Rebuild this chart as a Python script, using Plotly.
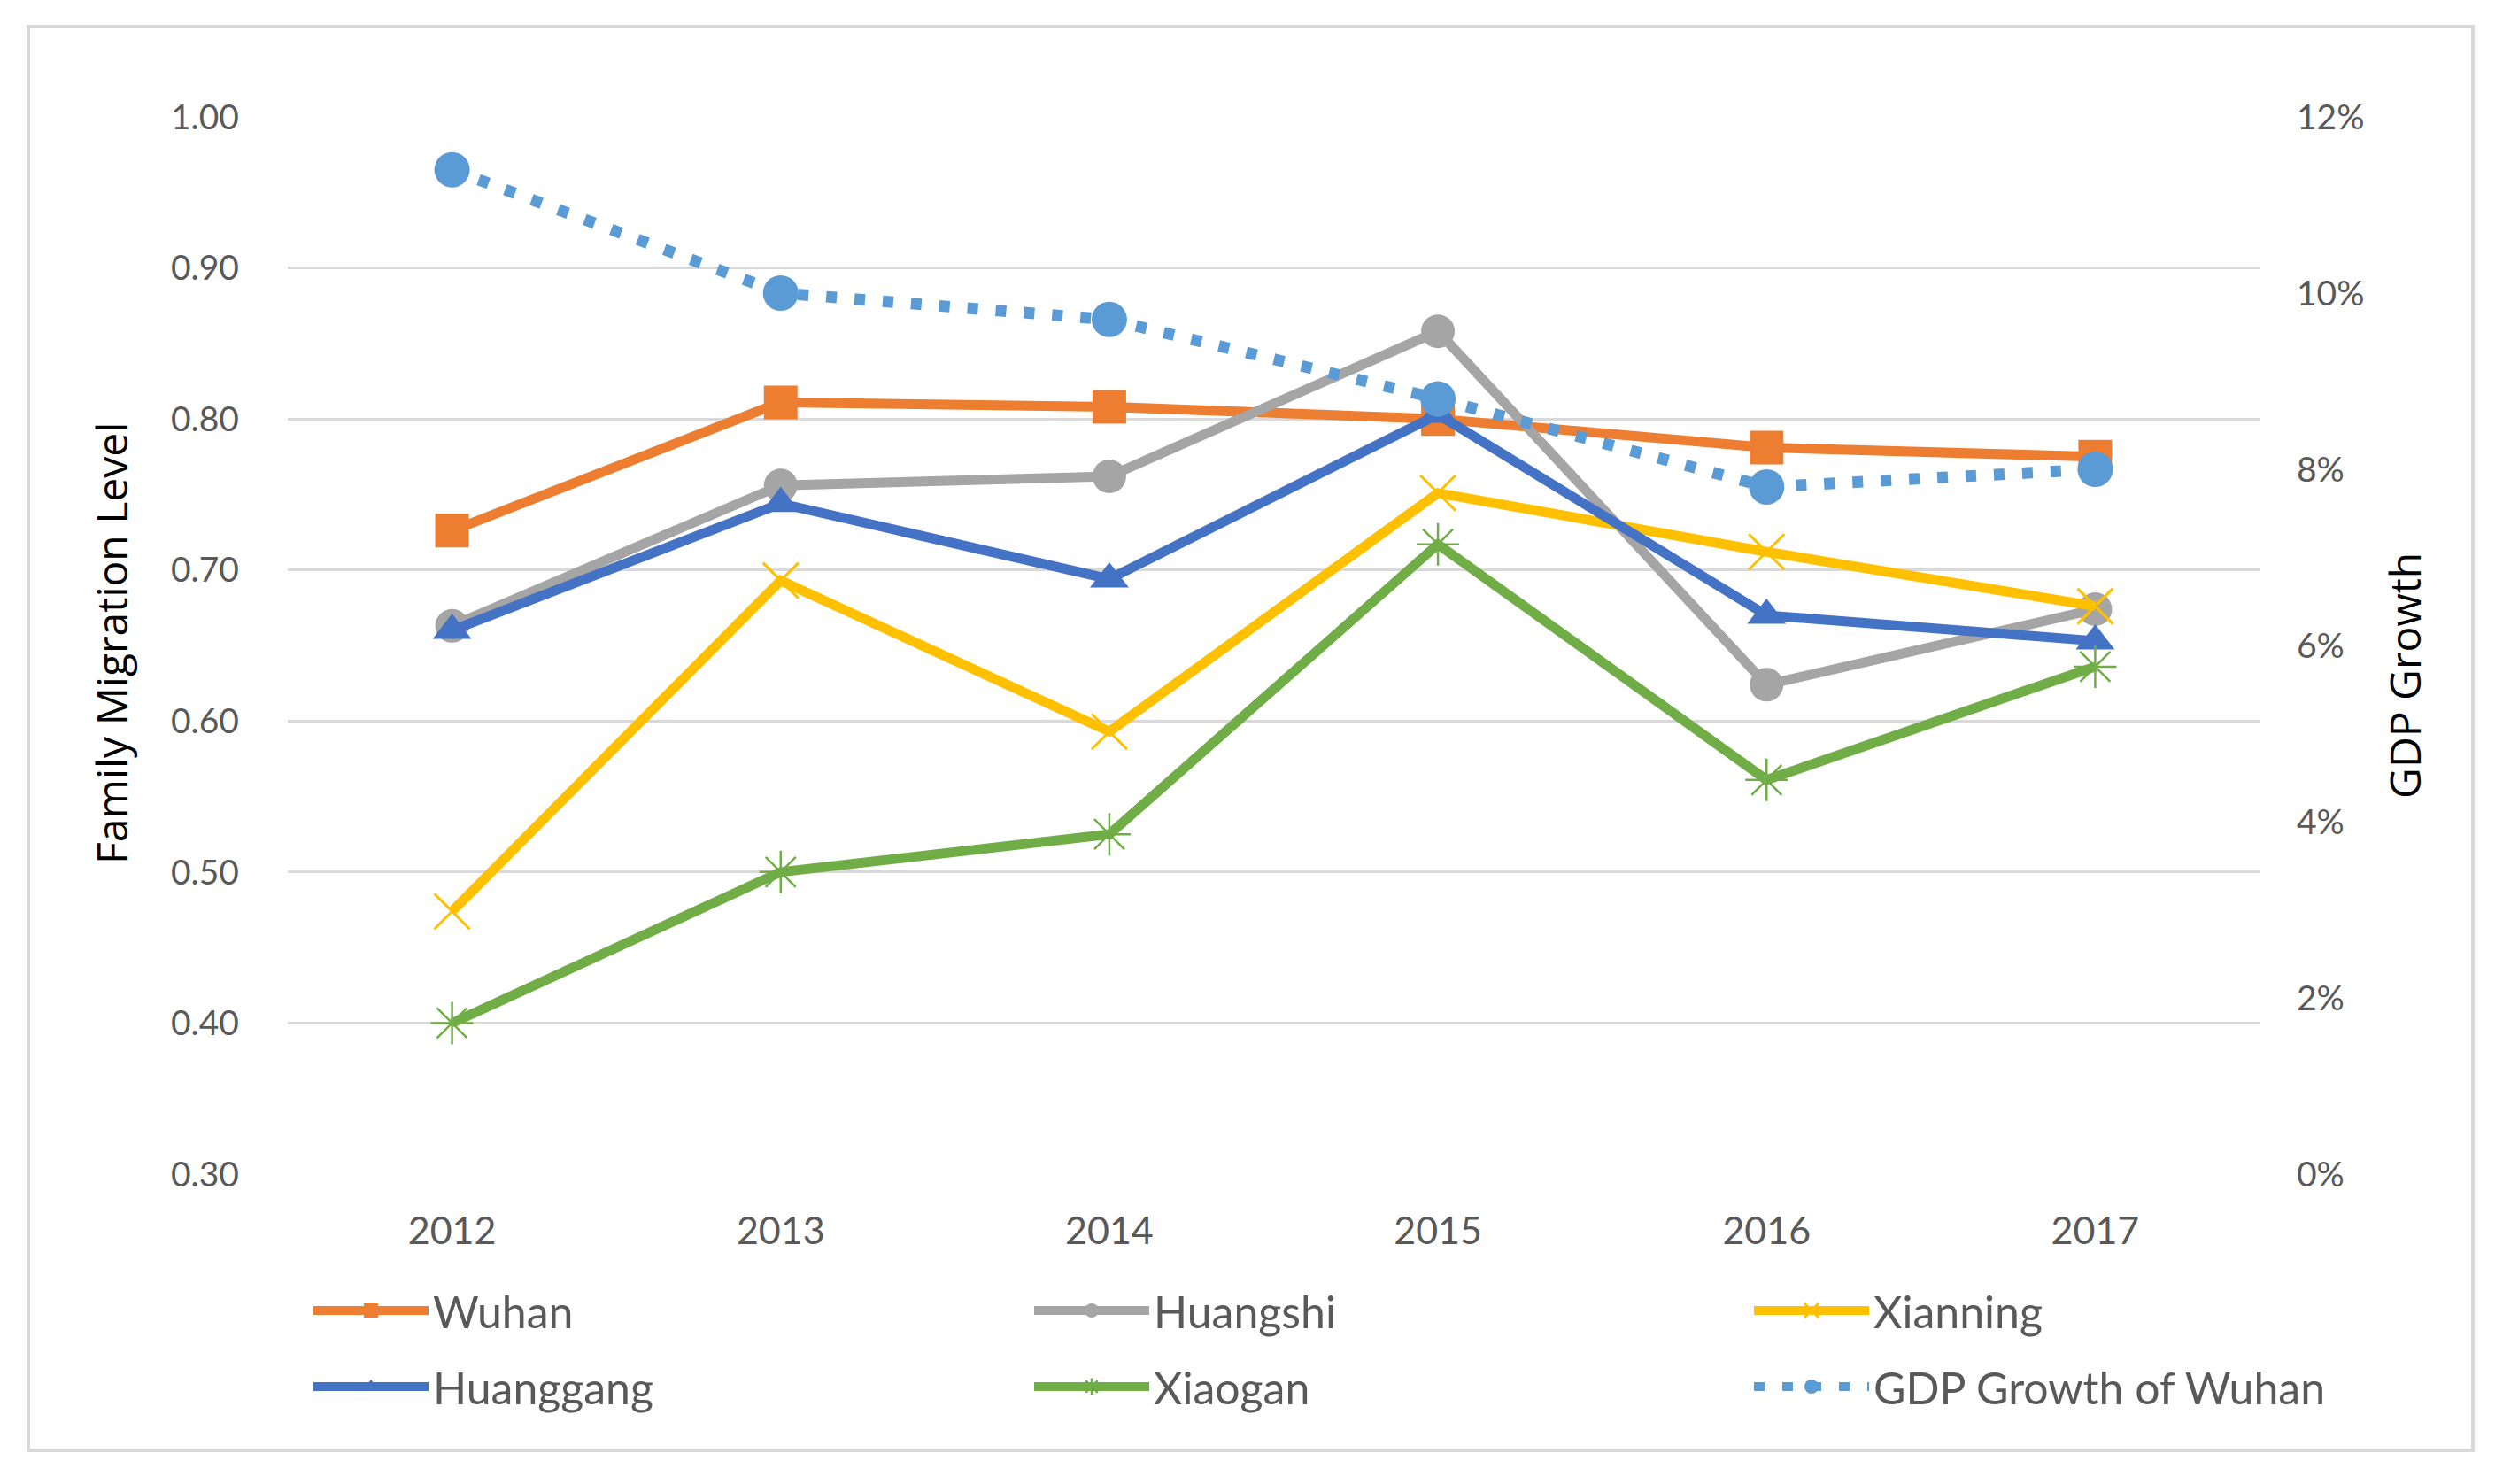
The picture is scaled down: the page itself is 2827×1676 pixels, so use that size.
import plotly.graph_objects as go

years = ["2012", "2013", "2014", "2015", "2016", "2017"]
wuhan = [0.726, 0.811, 0.808, 0.800, 0.781, 0.775]
huangshi = [0.663, 0.756, 0.762, 0.858, 0.624, 0.674]
xianning = [0.474, 0.693, 0.593, 0.751, 0.712, 0.676]
huanggang = [0.660, 0.744, 0.694, 0.803, 0.670, 0.653]
xiaogan = [0.400, 0.500, 0.525, 0.717, 0.561, 0.636]
gdp_growth = [0.114, 0.100, 0.097, 0.088, 0.078, 0.080]

left_ticks = [0.30, 0.40, 0.50, 0.60, 0.70, 0.80, 0.90, 1.00]
right_ticks = [0.00, 0.02, 0.04, 0.06, 0.08, 0.10, 0.12]

W, H = 2827, 1676
ML, MR, MT, MB = 325, 275, 132, 350
PW = W - ML - MR
PH = H - MT - MB

FONT = "Lato"
TXT = "#595959"


def px_x(p):
    return (p - ML) / PW


def px_y(p):
    return (MT + PH - p) / PH


fig = go.Figure()


def add_line(name, y, color, symbol, size, legend, mline=None):
    marker = dict(symbol=symbol, size=size, color=color)
    if mline:
        marker["line"] = dict(color=color, width=mline)
    fig.add_trace(go.Scatter(
        x=years, y=y, name=name, mode="lines+markers",
        line=dict(color=color, width=11),
        marker=marker, legend=legend, yaxis="y"))


add_line("Wuhan", wuhan, "#ED7D31", "square", 38, "legend")
add_line("Huangshi", huangshi, "#A5A5A5", "circle", 38, "legend2")
add_line("Xianning", xianning, "#FFC000", "x-thin", 40, "legend3", 3)
add_line("Huanggang", huanggang, "#4472C4", "triangle-up", 38, "legend4")
add_line("Xiaogan", xiaogan, "#70AD47", "asterisk-open", 40, "legend5", 2.5)

fig.add_trace(go.Scatter(
    x=years, y=gdp_growth, name="GDP Growth of Wuhan", mode="lines+markers",
    line=dict(color="#5B9BD5", width=13, dash="12px,20px"),
    marker=dict(symbol="circle", size=40, color="#5B9BD5"),
    legend="legend6", yaxis="y2"))

ITEM_W = 130
leg_common = dict(orientation="h", font=dict(family=FONT, size=50, color=TXT),
                  bgcolor="rgba(0,0,0,0)", xanchor="left", yanchor="middle",
                  itemsizing="trace", itemwidth=ITEM_W)

col_text_x = [499, 1313, 2126]
row_y = [1480, 1566]
legends = {}
k = 0
for r in range(2):
    for c in range(3):
        k += 1
        key = "legend" if k == 1 else f"legend{k}"
        legends[key] = dict(x=px_x(col_text_x[c] - ITEM_W - 20), y=px_y(row_y[r]),
                            **leg_common)

fig.update_layout(
    width=W, height=H,
    margin=dict(l=ML, r=MR, t=MT, b=MB),
    paper_bgcolor="white", plot_bgcolor="white",
    font=dict(family=FONT, color=TXT),
    xaxis=dict(type="category", range=[-0.5, 5.5], showgrid=False, showline=False,
               ticks="", tickfont=dict(family=FONT, size=43, color=TXT),
               ticklabelstandoff=35, zeroline=False),
    yaxis=dict(range=[0.3, 1.0], tickvals=left_ticks, tickformat=".2f",
               showgrid=True, gridcolor="#D9D9D9", gridwidth=3, zeroline=False,
               showline=False, ticks="", tickfont=dict(family=FONT, size=39, color=TXT),
               ticklabelstandoff=54),
    yaxis2=dict(range=[0, 0.12], tickvals=right_ticks, tickformat=".0%",
                overlaying="y", side="right", showgrid=False, zeroline=False,
                showline=False, ticks="", tickfont=dict(family=FONT, size=39, color=TXT),
                ticklabelstandoff=41),
    showlegend=True,
    **legends,
)

# axis titles
fig.add_annotation(text="Family Migration Level", xref="paper", yref="paper",
                   x=px_x(125), y=px_y(726), textangle=-90, showarrow=False,
                   xanchor="center", yanchor="middle",
                   font=dict(family="Open Sans", size=48, color="black"))
fig.add_annotation(text="GDP Growth", xref="paper", yref="paper",
                   x=px_x(2715), y=px_y(763), textangle=-90, showarrow=False,
                   xanchor="center", yanchor="middle",
                   font=dict(family="Open Sans", size=48, color="black"))

# light outer frame of the chart area
fig.add_shape(type="rect", xref="paper", yref="paper",
              x0=px_x(32), x1=px_x(2793), y0=px_y(1638), y1=px_y(30),
              line=dict(color="#D9D9D9", width=4), fillcolor="rgba(0,0,0,0)",
              layer="below")

fig.write_html("out.html", config={"displayModeBar": False},
               post_script="document.body.style.margin='0';")
